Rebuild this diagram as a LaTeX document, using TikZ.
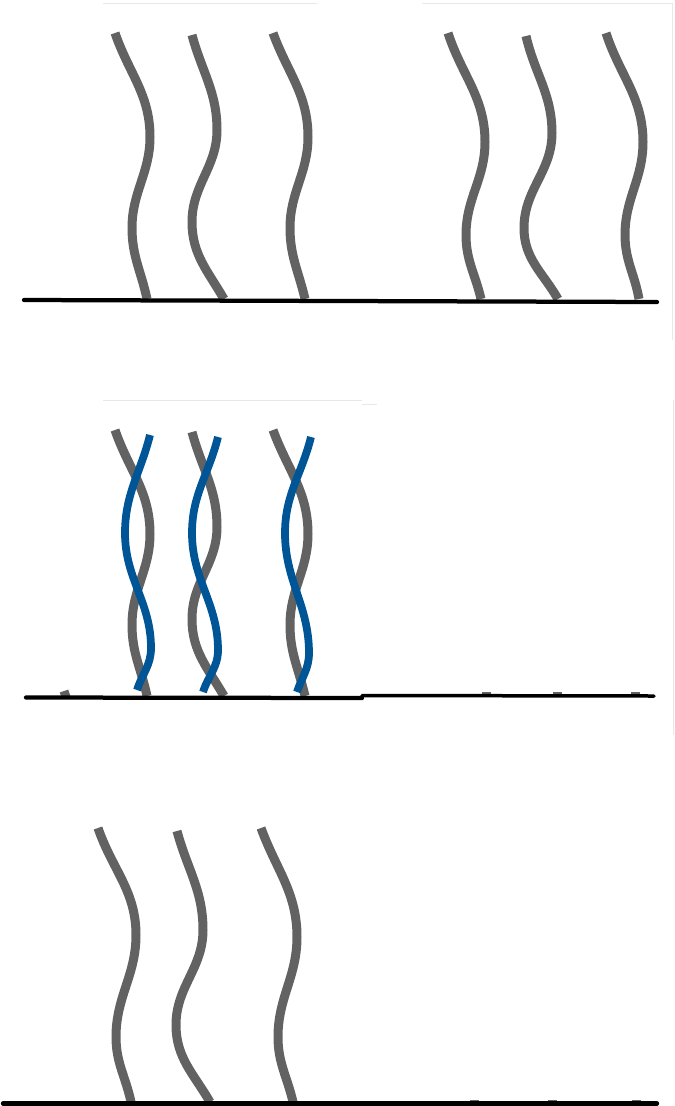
\documentclass[tikz,border=0pt]{standalone}
\usepackage{xcolor}
\usepackage{tikz}
\definecolor{strandgray}{RGB}{98, 98, 98}
\definecolor{strandblue}{RGB}{0, 85, 150}
\definecolor{framegray}{RGB}{232, 232, 232}

\begin{document}
\begin{tikzpicture}[
    x=0.02cm, y=-0.02cm,
    strand/.style={draw=strandgray, line width=0.18cm},
    bluestrand/.style={draw=strandblue, line width=0.155cm},
    stub/.style={draw=strandgray, line width=0.18cm},
    surface/.style={draw=black, line width=0.085cm, line cap=round},
    thinsurface/.style={draw=black, line width=0.07cm, line cap=round},
    frame/.style={draw=framegray, line width=0.02cm}
]
    \useasboundingbox (0,0) rectangle (675,1106);

    % Panel edges
    \draw[frame] (103,3) -- (317,3);
    \draw[frame] (422,3) -- (672,3) -- (672,340);
    \draw[frame] (103,400) -- (362,400);
    \draw[frame] (362,404) -- (377,404);
    \draw[frame] (673,400) -- (673,735);

    % Top row: two groups of strands
    \foreach \dy in {0,397} {
        \draw[strand] (115,33+\dy) to[out=-71,in=90] (150,137+\dy) to[out=-90,in=90] (132,228+\dy) to[out=-90,in=102] (147,299+\dy);
        \draw[strand] (192,35+\dy) to[out=-75,in=90] (217,130+\dy) to[out=-90,in=90] (192,222+\dy) to[out=-90,in=120] (224,299+\dy);
        \draw[strand] (273,33+\dy) to[out=-70,in=90] (308,137+\dy) to[out=-90,in=90] (290,228+\dy) to[out=-90,in=103] (305,299+\dy);
    }
    \draw[strand] (448,33) to[out=-72,in=90] (485,142) to[out=-90,in=90] (466,235) to[out=-90,in=103] (481,299);
    \draw[strand] (526,36) to[out=-77,in=90] (552,133) to[out=-90,in=90] (524,228) to[out=-90,in=120] (558,299);
    \draw[strand] (606,33) to[out=-72,in=90] (643,142) to[out=-90,in=90] (625,235) to[out=-90,in=100] (639,299);
    \draw[surface] (24,300) -- (657,302);

    % Middle row: blue strands wound round the gray ones
    \draw[bluestrand] (150,435) to[out=-104,in=90] (125,533) to[out=-90,in=90] (151,648) to[out=-90,in=72] (137,690);
    \draw[bluestrand] (218,437) to[out=-104,in=90] (192,533) to[out=-90,in=90] (218,650) to[out=-90,in=72] (203,692);
    \draw[bluestrand] (311,437) to[out=-104,in=90] (285,533) to[out=-90,in=90] (309,653) to[out=-90,in=72] (297,692);
    \foreach \x in {486,557,635} {
        \draw[stub] (\x,692) -- (\x,696);
    }
    \draw[stub] (64,691) -- (66,697);
    \draw[surface] (26,697.5) -- (362,698);
    \draw[thinsurface] (362,695.5) -- (654,696);

    % Bottom row
    \draw[strand] (98,828) to[out=-71,in=90] (136,935) to[out=-90,in=90] (116,1037) to[out=-90,in=102] (131,1102);
    \draw[strand] (177,831) to[out=-75,in=90] (203,930) to[out=-90,in=90] (176,1025) to[out=-90,in=120] (210,1102);
    \draw[strand] (261,828) to[out=-70,in=90] (297,937) to[out=-90,in=90] (278,1037) to[out=-90,in=103] (293,1102);
    \foreach \x in {474,552,636} {
        \draw[stub] (\x,1100) -- (\x,1103);
    }
    \draw[surface] (3,1103.5) -- (657,1103.5);
\end{tikzpicture}
\end{document}
